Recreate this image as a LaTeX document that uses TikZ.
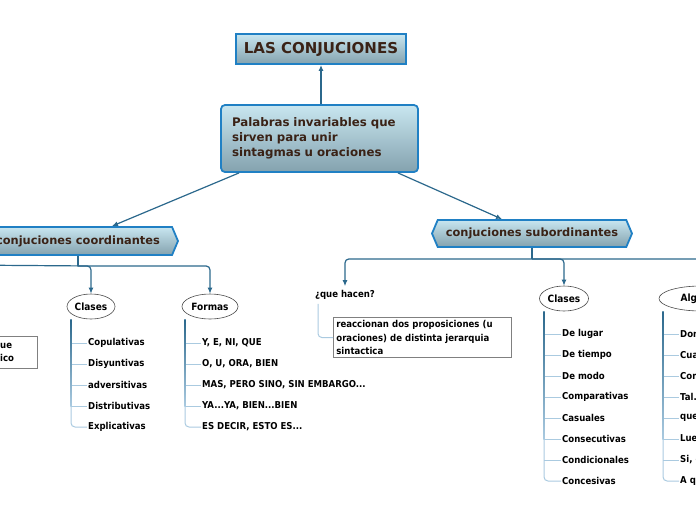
\documentclass[tikz,border=0pt]{standalone}
\usepackage{fontspec}
\setmainfont{DejaVu Sans}
\newfontfamily\lf{DejaVu Sans Condensed}[BoldFont={DejaVu Sans Condensed Bold}]
\usetikzlibrary{shapes.symbols,shapes.geometric,arrows.meta,calc}
\definecolor{cconn}{RGB}{43,104,140}
\definecolor{cborder}{RGB}{32,128,196}
\definecolor{clight}{RGB}{170,202,224}
\definecolor{ctop}{RGB}{200,230,240}
\definecolor{cbot}{RGB}{132,162,174}
\definecolor{cbrown}{RGB}{58,34,22}
\tikzset{
  conn/.style={draw=cconn, line width=1.2pt},
  arr/.style={-{Latex[length=6pt,width=5pt]}},
  hdr/.style={draw=cborder, line width=1.8pt, top color=ctop, bottom color=cbot, text=cbrown,
    font=\bfseries\fontsize{11.4}{14}\selectfont},
  hexbox/.style={hdr, signal, signal to=west and east, signal pointer angle=134, inner sep=2pt},
  oval/.style={ellipse, draw=black!70, line width=0.6pt, fill=white,
    font=\lf\bfseries\fontsize{10}{12}\selectfont, inner sep=0pt, minimum height=25pt},
  leaf/.style={anchor=west, inner sep=1pt, font=\lf\bfseries\fontsize{9.5}{13}\selectfont},
  tee/.style={draw=clight, line width=1pt},
  note/.style={draw=black!50, line width=0.8pt, fill=white}
}
\newcommand{\trunkshade}[2]{%
  \shade[top color=cconn, bottom color=clight] ($(#1)+(-0.6,0)$) rectangle ($(#1 |- #2.west)+(0.6,0)$);}
\begin{document}
\begin{tikzpicture}[x=1pt,y=-1pt]
\useasboundingbox (0,0) rectangle (696,520);
\clip (0,0) rectangle (696,520);

% headers
\node[hdr, rectangle, minimum width=170, minimum height=30,
  font=\bfseries\fontsize{15}{18}\selectfont] (las) at (321,49) {LAS CONJUCIONES};
\node[hdr, rectangle, rounded corners=4pt, minimum width=197, minimum height=67,
  text width=175, align=left, font=\bfseries\fontsize{11.8}{15}\selectfont]
  (main) at (319.5,138.5) {Palabras invariables que\\sirven para unir\\sintagmas u oraciones};
\node[hexbox, minimum width=200, minimum height=28] (coord) at (78,241) {conjuciones coordinantes};
\node[hexbox, minimum width=200, minimum height=27] (sub) at (532,233.5) {conjuciones subordinantes};

\draw[conn,arr] (las.south |- main.north) -- (las.south);
\draw[conn,arr] ([xshift=19]main.south west) -- ([xshift=34]coord.north);
\draw[conn,arr] ([xshift=-21]main.south east) -- ([xshift=-30]sub.north);

% ---------- coordinantes ----------
\node[oval, minimum width=48] (cclases) at (91,306.5) {Clases};
\node[oval, minimum width=56] (formas) at (210,306.5) {Formas};
\draw[conn] (coord.south) -- ++(0,10) coordinate (cj);
\coordinate (cleft) at (-40,265);
\draw[conn] (cj) -- (cleft);
\draw[conn,arr,rounded corners=4pt] (cj) -| (cclases.north);
\draw[conn,arr,rounded corners=4pt] (cj) -| (formas.north);

% left partial box
\node[note, minimum width=100, minimum height=32] (lbox) at (-13,352) {};
\node[leaf, align=left] (ltext) at (-1,352) {ue\\ico};

% Clases (coordinantes)
\node[leaf] (c1) at (87,343) {Copulativas};
\node[leaf] (c2) at (87,364) {Disyuntivas};
\node[leaf] (c3) at (87,385) {adversitivas};
\node[leaf] (c4) at (87,406) {Distributivas};
\node[leaf] (c5) at (87,427) {Explicativas};
\coordinate (ct) at ([xshift=-20]cclases.south);
\foreach \n in {c1,c2,c3,c4} \draw[tee] (ct |- \n.west) -- (\n.west);
\draw[tee, rounded corners=4pt] (ct) |- (c5.west);
\trunkshade{ct}{c4}

% Formas
\node[leaf] (f1) at (201,343) {Y, E, NI, QUE};
\node[leaf] (f2) at (201,364) {O, U, ORA, BIEN};
\node[leaf] (f3) at (201,385) {MAS, PERO SINO, SIN EMBARGO...};
\node[leaf] (f4) at (201,406) {YA...YA, BIEN...BIEN};
\node[leaf] (f5) at (201,427) {ES DECIR, ESTO ES...};
\coordinate (ft) at ([xshift=-25]formas.south);
\foreach \n in {f1,f2,f3,f4} \draw[tee] (ft |- \n.west) -- (\n.west);
\draw[tee, rounded corners=4pt] (ft) |- (f5.west);
\trunkshade{ft}{f4}

% ---------- subordinantes ----------
\node[leaf, anchor=center, inner ysep=4pt] (qh) at (345,295) {¿que hacen?};
\node[oval, minimum width=49] (sclases) at (564,298.5) {Clases};
\node[oval, minimum width=84] (alg) at (701,298.5) {Algunas};
\draw[conn] (sub.south) -- ++(0,11) coordinate (sj);
\draw[conn,arr,rounded corners=4pt] (sj) -| (qh.north);
\draw[conn,arr,rounded corners=4pt] (sj) -| (sclases.north);
\draw[conn,arr,rounded corners=4pt] (sj) -| (alg.north);

\node[note, anchor=north west, text width=172, align=left, inner sep=3pt,
  font=\lf\bfseries\fontsize{9.5}{13.5}\selectfont] (react) at (333,317)
  {reaccionan dos proposiciones (u\\oraciones) de distinta jerarquia\\sintactica};
\draw[tee, rounded corners=4pt] ([xshift=-27]qh.south) |- (react.west);

% Clases (subordinantes)
\node[leaf] (s1) at (561,334) {De lugar};
\node[leaf] (s2) at (561,355) {De tiempo};
\node[leaf] (s3) at (561,376) {De modo};
\node[leaf] (s4) at (561,397) {Comparativas};
\node[leaf] (s5) at (561,418) {Casuales};
\node[leaf] (s6) at (561,439) {Consecutivas};
\node[leaf] (s7) at (561,460) {Condicionales};
\node[leaf] (s8) at (561,481) {Concesivas};
\coordinate (st) at ([xshift=-20]sclases.south);
\foreach \n in {s1,s2,s3,s4,s5,s6,s7} \draw[tee] (st |- \n.west) -- (\n.west);
\draw[tee, rounded corners=4pt] (st) |- (s8.west);
\trunkshade{st}{s6}

% Algunas
\node[leaf] (a1) at (679,334) {Donde};
\node[leaf] (a2) at (679,355) {Cuando};
\node[leaf] (a3) at (679,376) {Como};
\node[leaf] (a4) at (679,397) {Tal...};
\node[leaf] (a5) at (679,418) {que};
\node[leaf] (a6) at (679,439) {Luego};
\node[leaf] (a7) at (679,460) {Si, con tal que};
\node[leaf] (a8) at (679,481) {A que};
\coordinate (at) at ([xshift=-38]alg.south);
\foreach \n in {a1,a2,a3,a4,a5,a6,a7} \draw[tee] (at |- \n.west) -- (\n.west);
\draw[tee, rounded corners=4pt] (at) |- (a8.west);
\trunkshade{at}{a6}
\end{tikzpicture}
\end{document}
